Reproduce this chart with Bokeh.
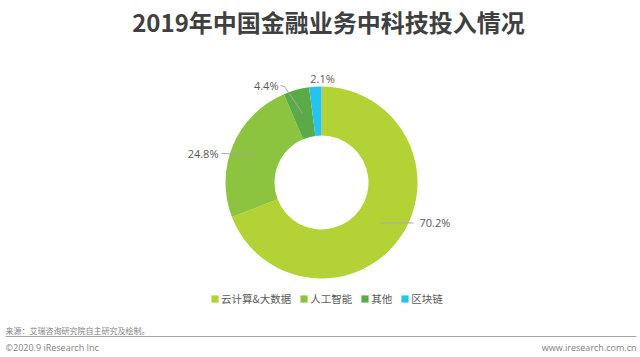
import math
from bokeh.plotting import figure
from bokeh.models import Range1d, Legend, LegendItem, ColumnDataSource
from bokeh.core.properties import value
from bokeh.embed import file_html
from bokeh.resources import INLINE

# ---- data ----
categories = ["云计算&大数据", "人工智能", "其他", "区块链"]
shares = [70.2, 24.8, 4.4, 2.1]
labels = ["70.2%", "24.8%", "4.4%", "2.1%"]
colors = ["#b3d235", "#8cc43f", "#5aab48", "#26c3ee"]

title_text = "2019年中国金融业务中科技投入情况"
source_text = "来源：艾瑞咨询研究院自主研究及绘制。"
copyright_text = "©2020.9 iResearch Inc"
site_text = "www.iresearch.com.cn"

# ---- layout (screen pixels, y measured from top) ----
W, H = 640, 357
CX, CY = 321, 182
R_OUT, R_IN = 96, 47
R_MID = (R_OUT + R_IN) / 2


def sy(y):
    return H - y


p = figure(width=W, height=H, frame_width=W, frame_height=H,
           x_range=Range1d(0, W), y_range=Range1d(0, H),
           x_axis_type=None, y_axis_type=None,
           toolbar_location=None, output_backend="svg", min_border=0,
           outline_line_color=None, background_fill_color="white")
p.grid.visible = False

total = sum(shares)
starts, ends, mids = [], [], []
cum = 0.0
for s in shares:
    a0 = math.pi / 2 - 2 * math.pi * cum / total
    cum += s
    a1 = math.pi / 2 - 2 * math.pi * cum / total
    starts.append(a0)
    ends.append(a1)
    mids.append((a0 + a1) / 2)

src = ColumnDataSource(dict(x=[CX] * len(shares), y=[sy(CY)] * len(shares),
                            start=starts, end=ends, color=colors, cat=categories))
p.annular_wedge(x="x", y="y", inner_radius=R_IN, outer_radius=R_OUT,
                start_angle="start", end_angle="end", direction="clock",
                fill_color="color", line_color=None, source=src)

label_color = "#595959"
lead_color = "#a6a6a6"
font_lbl = value("Open Sans")

# mid points of slices
mx = [CX + R_MID * math.cos(a) for a in mids]
my = [sy(CY) + R_MID * math.sin(a) for a in mids]

# 70.2% : horizontal leader to the right
p.line([mx[0], 413], [my[0], my[0]], line_color=lead_color, line_width=1)
p.text([419], [my[0]], text=[labels[0]], text_font=font_lbl, text_font_size="11px",
       text_color=label_color, text_baseline="middle", text_align="left")

# 24.8% : horizontal leader to the left
p.line([mx[1], 221], [my[1], sy(153)], line_color=lead_color, line_width=1)
p.text([218], [sy(153)], text=[labels[1]], text_font=font_lbl, text_font_size="11px",
       text_color=label_color, text_baseline="middle", text_align="right")

# 4.4% : bent leader up-left
p.line([mx[2], 284, 280], [my[2], sy(86), sy(85)], line_color=lead_color, line_width=1)
p.text([278], [sy(85)], text=[labels[2]], text_font=font_lbl, text_font_size="11px",
       text_color=label_color, text_baseline="middle", text_align="right")

# 2.1% : above the slice
p.text([CX + 1], [sy(78)], text=[labels[3]], text_font=font_lbl, text_font_size="11px",
       text_color=label_color, text_baseline="middle", text_align="center")

# title
p.text([W / 2 + 8], [sy(21)], text=[title_text], text_font=value("Noto Sans CJK SC"),
       text_font_size="24px", text_font_style="bold", text_color="#404040",
       text_baseline="middle", text_align="center")

# legend (swatch renderers hold one point outside the visible frame)
items = []
for c, col in zip(categories, colors):
    r = p.rect(x=[-1000], y=[-1000], width=1, height=1, fill_color=col, line_color=None)
    items.append(LegendItem(label=c, renderers=[r]))
legend = Legend(items=items, orientation="horizontal", location=(210, sy(300) - 6),
                glyph_width=9, glyph_height=9, label_standoff=2, spacing=8,
                padding=0, margin=0, label_height=12, label_width=10,
                label_text_font="Noto Sans CJK SC", label_text_font_size="10.5px",
                label_text_color="#595959", border_line_color=None,
                background_fill_alpha=0)
p.add_layout(legend, "center")

# footer
foot_font = value("Noto Sans CJK SC")
p.text([5], [sy(330)], text=[source_text], text_font=foot_font, text_font_size="8px",
       text_color="#7f7f7f", text_baseline="middle", text_align="left")
p.line([5, 636], [sy(336), sy(336)], line_color="#a6a6a6", line_width=1)
p.text([5], [sy(347)], text=[copyright_text], text_font=value("Open Sans"), text_font_size="9px",
       text_color="#7f7f7f", text_baseline="middle", text_align="left")
p.text([636], [sy(347)], text=[site_text], text_font=value("Open Sans"), text_font_size="9px",
       text_color="#7f7f7f", text_baseline="middle", text_align="right")

open("out.html", "w").write(file_html(p, INLINE))
